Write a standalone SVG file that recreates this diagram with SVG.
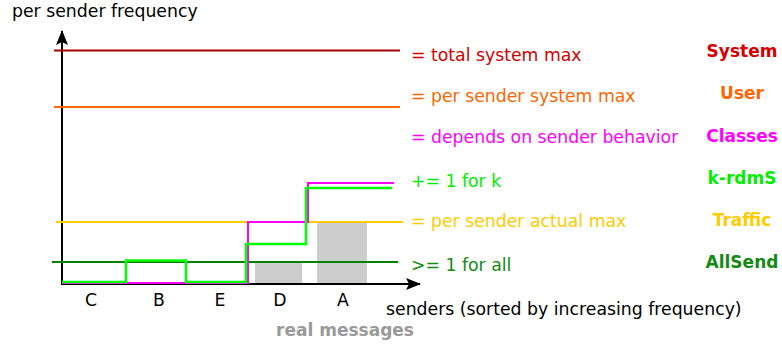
<svg xmlns="http://www.w3.org/2000/svg" width="782" height="347" viewBox="0 0 782 347">
<defs>
<style>
text{font-family:"DejaVu Sans","Liberation Sans",sans-serif;font-size:17.3px}
.b{font-weight:bold;text-anchor:middle;font-size:17px}
.l{fill:none}
</style>
<marker id="ah" viewBox="0 0 15 12" refX="14" refY="6" markerWidth="15" markerHeight="12" markerUnits="userSpaceOnUse" orient="auto">
<path d="M0,0 L15,6 L0,12 L3,6 Z" fill="#000"/>
</marker>
</defs>
<rect width="782" height="347" fill="#fff"/>
<g id="bars">
<rect x="255" y="263" width="47" height="21" fill="#cccccc"/>
<rect x="317" y="222" width="50" height="62" fill="#cccccc"/>
</g>
<g id="connectors">
<line x1="62" y1="285" x2="62" y2="31" stroke="#000" stroke-width="2" marker-end="url(#ah)"/>
<line x1="62" y1="284" x2="420" y2="284" stroke="#000" stroke-width="2" marker-end="url(#ah)"/>
<line x1="54" y1="50.5" x2="400" y2="50.5" stroke="#aa0000" stroke-width="2"/>
<line x1="54" y1="107" x2="400" y2="107" stroke="#ff6600" stroke-width="2"/>
<line x1="56" y1="222" x2="403" y2="222" stroke="#ffcc00" stroke-width="2"/>
<line x1="52" y1="262" x2="398" y2="262" stroke="#008000" stroke-width="2"/>
<path class="l" d="M62,283 H248 V222 H308 V183 H394" stroke="#ff00ff" stroke-width="2"/>
<path class="l" d="M62,282 H126 V260.5 H186 V282 H246 V244 H306 V188 H392" stroke="#00ff00" stroke-width="2.5"/>
</g>
<g id="axis-labels">
<text x="12" y="17">per sender frequency</text>
<text x="386" y="315">senders (sorted by increasing frequency)</text>
<text x="91" y="306" text-anchor="middle">C</text>
<text x="159" y="306" text-anchor="middle">B</text>
<text x="220" y="306" text-anchor="middle">E</text>
<text x="280" y="306" text-anchor="middle">D</text>
<text x="343" y="306" text-anchor="middle">A</text>
<text x="345" y="336" class="b" fill="#999999">real messages</text>
</g>
<g id="legend-system"><text x="411" y="61" fill="#d40000">= total system max</text><text x="742" y="57" class="b" fill="#d40000">System</text></g>
<g id="legend-user"><text x="411" y="102" fill="#ff6600">= per sender system max</text><text x="742" y="99" class="b" fill="#ff6600">User</text></g>
<g id="legend-classes"><text x="411" y="143" fill="#ff00ff">= depends on sender behavior</text><text x="742" y="142" class="b" fill="#ff00ff">Classes</text></g>
<g id="legend-krdms"><text x="411" y="187" fill="#00ee00">+= 1 for k</text><text x="742" y="184" class="b" fill="#00ee00">k-rdmS</text></g>
<g id="legend-traffic"><text x="411" y="227" fill="#ffcc00">= per sender actual max</text><text x="742" y="226" class="b" fill="#ffcc00">Traffic</text></g>
<g id="legend-allsend"><text x="411" y="271" fill="#138a13">&gt;= 1 for all</text><text x="742" y="268" class="b" fill="#138a13">AllSend</text></g>
</svg>
